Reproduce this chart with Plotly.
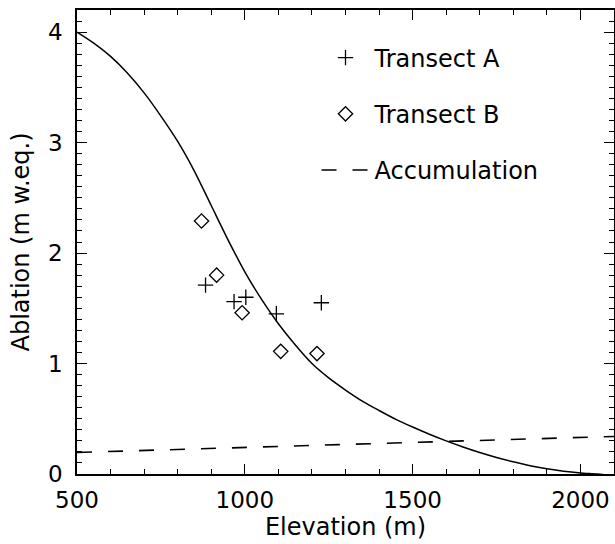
import plotly.graph_objects as go

# Model ablation curve (m w.eq.) vs elevation (m)
curve_elev = [500, 550, 600, 650, 700, 750, 800, 850, 900, 950, 1000, 1050, 1100, 1150,
              1200, 1250, 1300, 1350, 1400, 1450, 1500, 1550, 1600, 1650, 1700, 1750,
              1800, 1850, 1900, 1950, 2000, 2050, 2080]
curve_abl = [4.00, 3.90, 3.78, 3.63, 3.45, 3.24, 3.01, 2.74, 2.43, 2.12, 1.83, 1.58, 1.36, 1.17,
             1.00, 0.87, 0.76, 0.66, 0.575, 0.495, 0.425, 0.36, 0.30, 0.245, 0.195, 0.15,
             0.11, 0.075, 0.047, 0.025, 0.01, 0.0, -0.01]

# Transect A
a_elev = [883, 968, 1003, 1094, 1228]
a_abl = [1.71, 1.56, 1.60, 1.45, 1.55]

# Transect B
b_elev = [871, 916, 992, 1107, 1215]
b_abl = [2.29, 1.80, 1.46, 1.11, 1.09]

# Accumulation
acc_elev = [500, 2100]
acc_val = [0.195, 0.34]

FONT = "DejaVu Sans"
FS = 24
TFS = 23
fig = go.Figure()

fig.add_trace(go.Scatter(x=curve_elev, y=curve_abl, mode="lines",
                         line=dict(color="black", width=1.5, shape="spline", smoothing=0.8),
                         showlegend=False))
fig.add_trace(go.Scatter(x=a_elev, y=a_abl, mode="markers", name="Transect A",
                         legendgroup="a",
                         marker=dict(symbol="cross-thin-open", size=11, color="black",
                                     line=dict(color="black", width=1.3))))
fig.add_trace(go.Scatter(x=b_elev, y=b_abl, mode="markers", name="Transect B",
                         legendgroup="b",
                         marker=dict(symbol="diamond-open", size=11, color="black",
                                     line=dict(color="black", width=1.3))))
fig.add_trace(go.Scatter(x=acc_elev, y=acc_val, mode="lines", name="Accumulation",
                         legendgroup="c",
                         line=dict(color="black", width=1.6, dash="15px,16px")))

axis_common = dict(
    showline=True, linecolor="black", linewidth=1.6, mirror="ticks",
    ticks="inside", ticklen=10, tickwidth=1.4, tickcolor="black",
    showgrid=False, zeroline=False, automargin=False,
    tickfont=dict(family=FONT, size=TFS, color="black"),
)

fig.update_layout(
    template="none",
    width=615, height=544,
    margin=dict(l=77, r=1, t=10, b=70),
    paper_bgcolor="white", plot_bgcolor="white",
    font=dict(family=FONT, color="black"),
    xaxis=dict(range=[500, 2100], tickvals=[500, 1000, 1500, 2000],
               minor=dict(dtick=100, tick0=500, ticks="inside", ticklen=5,
                          tickwidth=1.2, tickcolor="black"),
               title=dict(text="Elevation (m)", font=dict(family=FONT, size=FS),
                          standoff=2),
               ticklabelstandoff=5,
               **axis_common),
    yaxis=dict(range=[0, 4.2], tickvals=[0, 1, 2, 3, 4],
               minor=dict(dtick=0.1, tick0=0, ticks="inside", ticklen=5,
                          tickwidth=1.2, tickcolor="black"),
               title=dict(text="Ablation (m w.eq.)", font=dict(family=FONT, size=FS),
                          standoff=12),
               ticklabelstandoff=8,
               **axis_common),
    legend=dict(x=0.446, y=0.945, xanchor="left", yanchor="top",
                bgcolor="rgba(0,0,0,0)", borderwidth=0,
                font=dict(family=FONT, size=FS, color="black"),
                traceorder="grouped", tracegroupgap=22, itemwidth=48),
)

fig.write_html(
    "out.html",
    config={"displayModeBar": False},
    post_script="document.body.style.margin='0';document.body.style.overflow='hidden';",
)
